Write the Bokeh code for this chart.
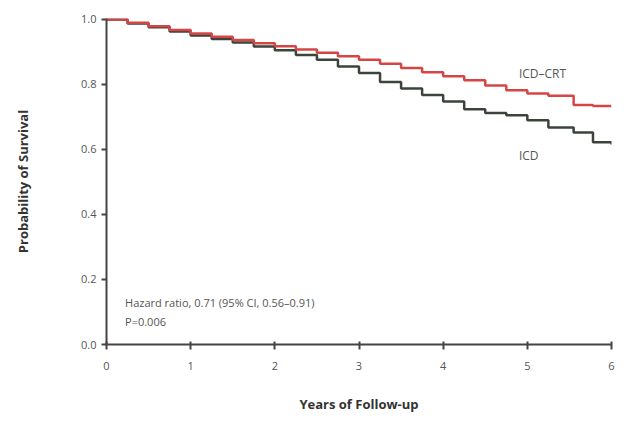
from bokeh.plotting import figure
from bokeh.models import Range1d, FixedTicker, Label
from bokeh.embed import file_html
from bokeh.resources import INLINE

# Kaplan-Meier estimates
years = [0, 0.25, 0.5, 0.75, 1.0, 1.25, 1.5, 1.75, 2.0, 2.25, 2.5, 2.75, 3.0,
         3.25, 3.5, 3.75, 4.0, 4.25, 4.5, 4.75, 5.0, 5.25, 5.55, 5.78, 6.0]
icd_crt = [1.0, 0.99, 0.979, 0.968, 0.957, 0.947, 0.937, 0.927, 0.918, 0.908, 0.898, 0.887, 0.876,
           0.864, 0.851, 0.838, 0.825, 0.813, 0.797, 0.782, 0.772, 0.765, 0.737, 0.734, 0.734]
icd = [1.0, 0.988, 0.976, 0.963, 0.951, 0.94, 0.929, 0.917, 0.905, 0.891, 0.876, 0.855, 0.835,
       0.808, 0.788, 0.768, 0.748, 0.724, 0.712, 0.705, 0.69, 0.668, 0.652, 0.622, 0.615]

x_ticks = [0, 1, 2, 3, 4, 5, 6]
y_ticks = [0.0, 0.2, 0.4, 0.6, 0.8, 1.0]
y_tick_labels = {0.0: "0.0", 0.2: "0.2", 0.4: "0.4", 0.6: "0.6", 0.8: "0.8", 1.0: "1.0"}

FONT = "Open Sans"
GREY = "#555555"

p = figure(width=615, height=415, output_backend="svg", toolbar_location=None,
           x_range=Range1d(0, 6.0), y_range=Range1d(0, 1.003),
           min_border_left=106, min_border_top=18, min_border_bottom=70, min_border_right=4)
p.outline_line_color = None
p.xgrid.visible = False
p.ygrid.visible = False
p.background_fill_color = "white"

p.step(years, icd, mode="after", line_color="#3b443b", line_width=2.5)
p.step(years, icd_crt, mode="after", line_color="#d64545", line_width=2.5)

for ax in (p.xaxis[0], p.yaxis[0]):
    ax.axis_line_color = "#444444"
    ax.axis_line_width = 2
    ax.major_tick_line_color = "#444444"
    ax.major_tick_line_width = 2
    ax.minor_tick_line_color = None
    ax.major_label_text_font = FONT
    ax.major_label_text_font_size = "11px"
    ax.major_label_text_color = GREY
    ax.axis_label_text_font = FONT
    ax.axis_label_text_font_size = "13px"
    ax.axis_label_text_font_style = "bold"
    ax.axis_label_text_color = "#333333"

p.xaxis.ticker = FixedTicker(ticks=x_ticks)
p.yaxis.ticker = FixedTicker(ticks=y_ticks)
p.yaxis.major_label_overrides = y_tick_labels
p.xaxis.major_tick_in = 3
p.xaxis.major_tick_out = 5
p.yaxis.major_tick_in = 0
p.yaxis.major_tick_out = 5
p.xaxis.major_label_standoff = 12
p.yaxis.major_label_standoff = 5
p.xaxis.axis_label = "Years of Follow-up"
p.yaxis.axis_label = "Probability of Survival"
p.xaxis.axis_label_standoff = 22
p.yaxis.axis_label_standoff = 46

p.add_layout(Label(x=4.9, y=0.835, text="ICD–CRT", text_font=FONT, text_font_size="12px",
                   text_color=GREY, text_baseline="middle"))
p.add_layout(Label(x=4.9, y=0.58, text="ICD", text_font=FONT, text_font_size="12px",
                   text_color=GREY, text_baseline="middle"))
p.add_layout(Label(x=0.22, y=0.13, text="Hazard ratio, 0.71 (95% CI, 0.56–0.91)", text_font=FONT,
                   text_font_size="11px", text_color=GREY, text_baseline="middle"))
p.add_layout(Label(x=0.22, y=0.072, text="P=0.006", text_font=FONT,
                   text_font_size="11px", text_color=GREY, text_baseline="middle"))

open("out.html", "w").write(file_html(p, INLINE))
